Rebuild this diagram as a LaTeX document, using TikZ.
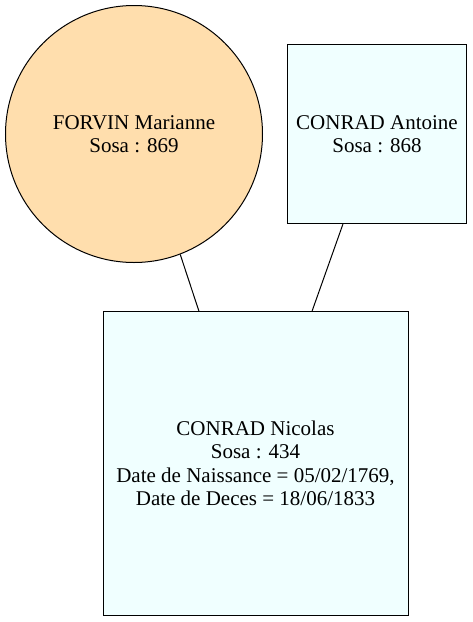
\documentclass[tikz,border=0pt]{standalone}
\usepackage{fontspec}
\setmainfont{Liberation Serif}
\usetikzlibrary{calc}
\definecolor{navajo}{HTML}{FFDEAD}
\definecolor{azurebox}{HTML}{F0FFFF}
\begin{document}
\begin{tikzpicture}[x=1pt,y=-1pt,
  lbl/.style={font=\fontsize{21}{23.5}\selectfont, align=center, text=black},
  person/.style={lbl, draw=black, line width=1pt, inner sep=0pt},
  circnode/.style={person, circle, fill=navajo, minimum size=257pt},
  boxnode/.style={person, rectangle, fill=azurebox},
  link/.style={draw=black, line width=1pt}]
\useasboundingbox[fill=white] (0,0) rectangle (472,622);
\node[circnode] (a) at (134,134) {FORVIN Marianne\\Sosa : 869};
\node[boxnode, minimum width=179pt, minimum height=179pt] (b) at (377,134) {CONRAD Antoine\\Sosa : 868};
\node[boxnode, minimum width=305pt, minimum height=304pt] (c) at (255.5,463.5) {CONRAD Nicolas\\Sosa : 434\\Date de Naissance = 05/02/1769,\\Date de Deces = 18/06/1833};
\path[link] (a.-69.3) -- ($(c.north west)!0.315!(c.north east)$);
\path[link] ($(b.south west)!0.311!(b.south east)$) -- ($(c.north west)!0.685!(c.north east)$);
\end{tikzpicture}
\end{document}
